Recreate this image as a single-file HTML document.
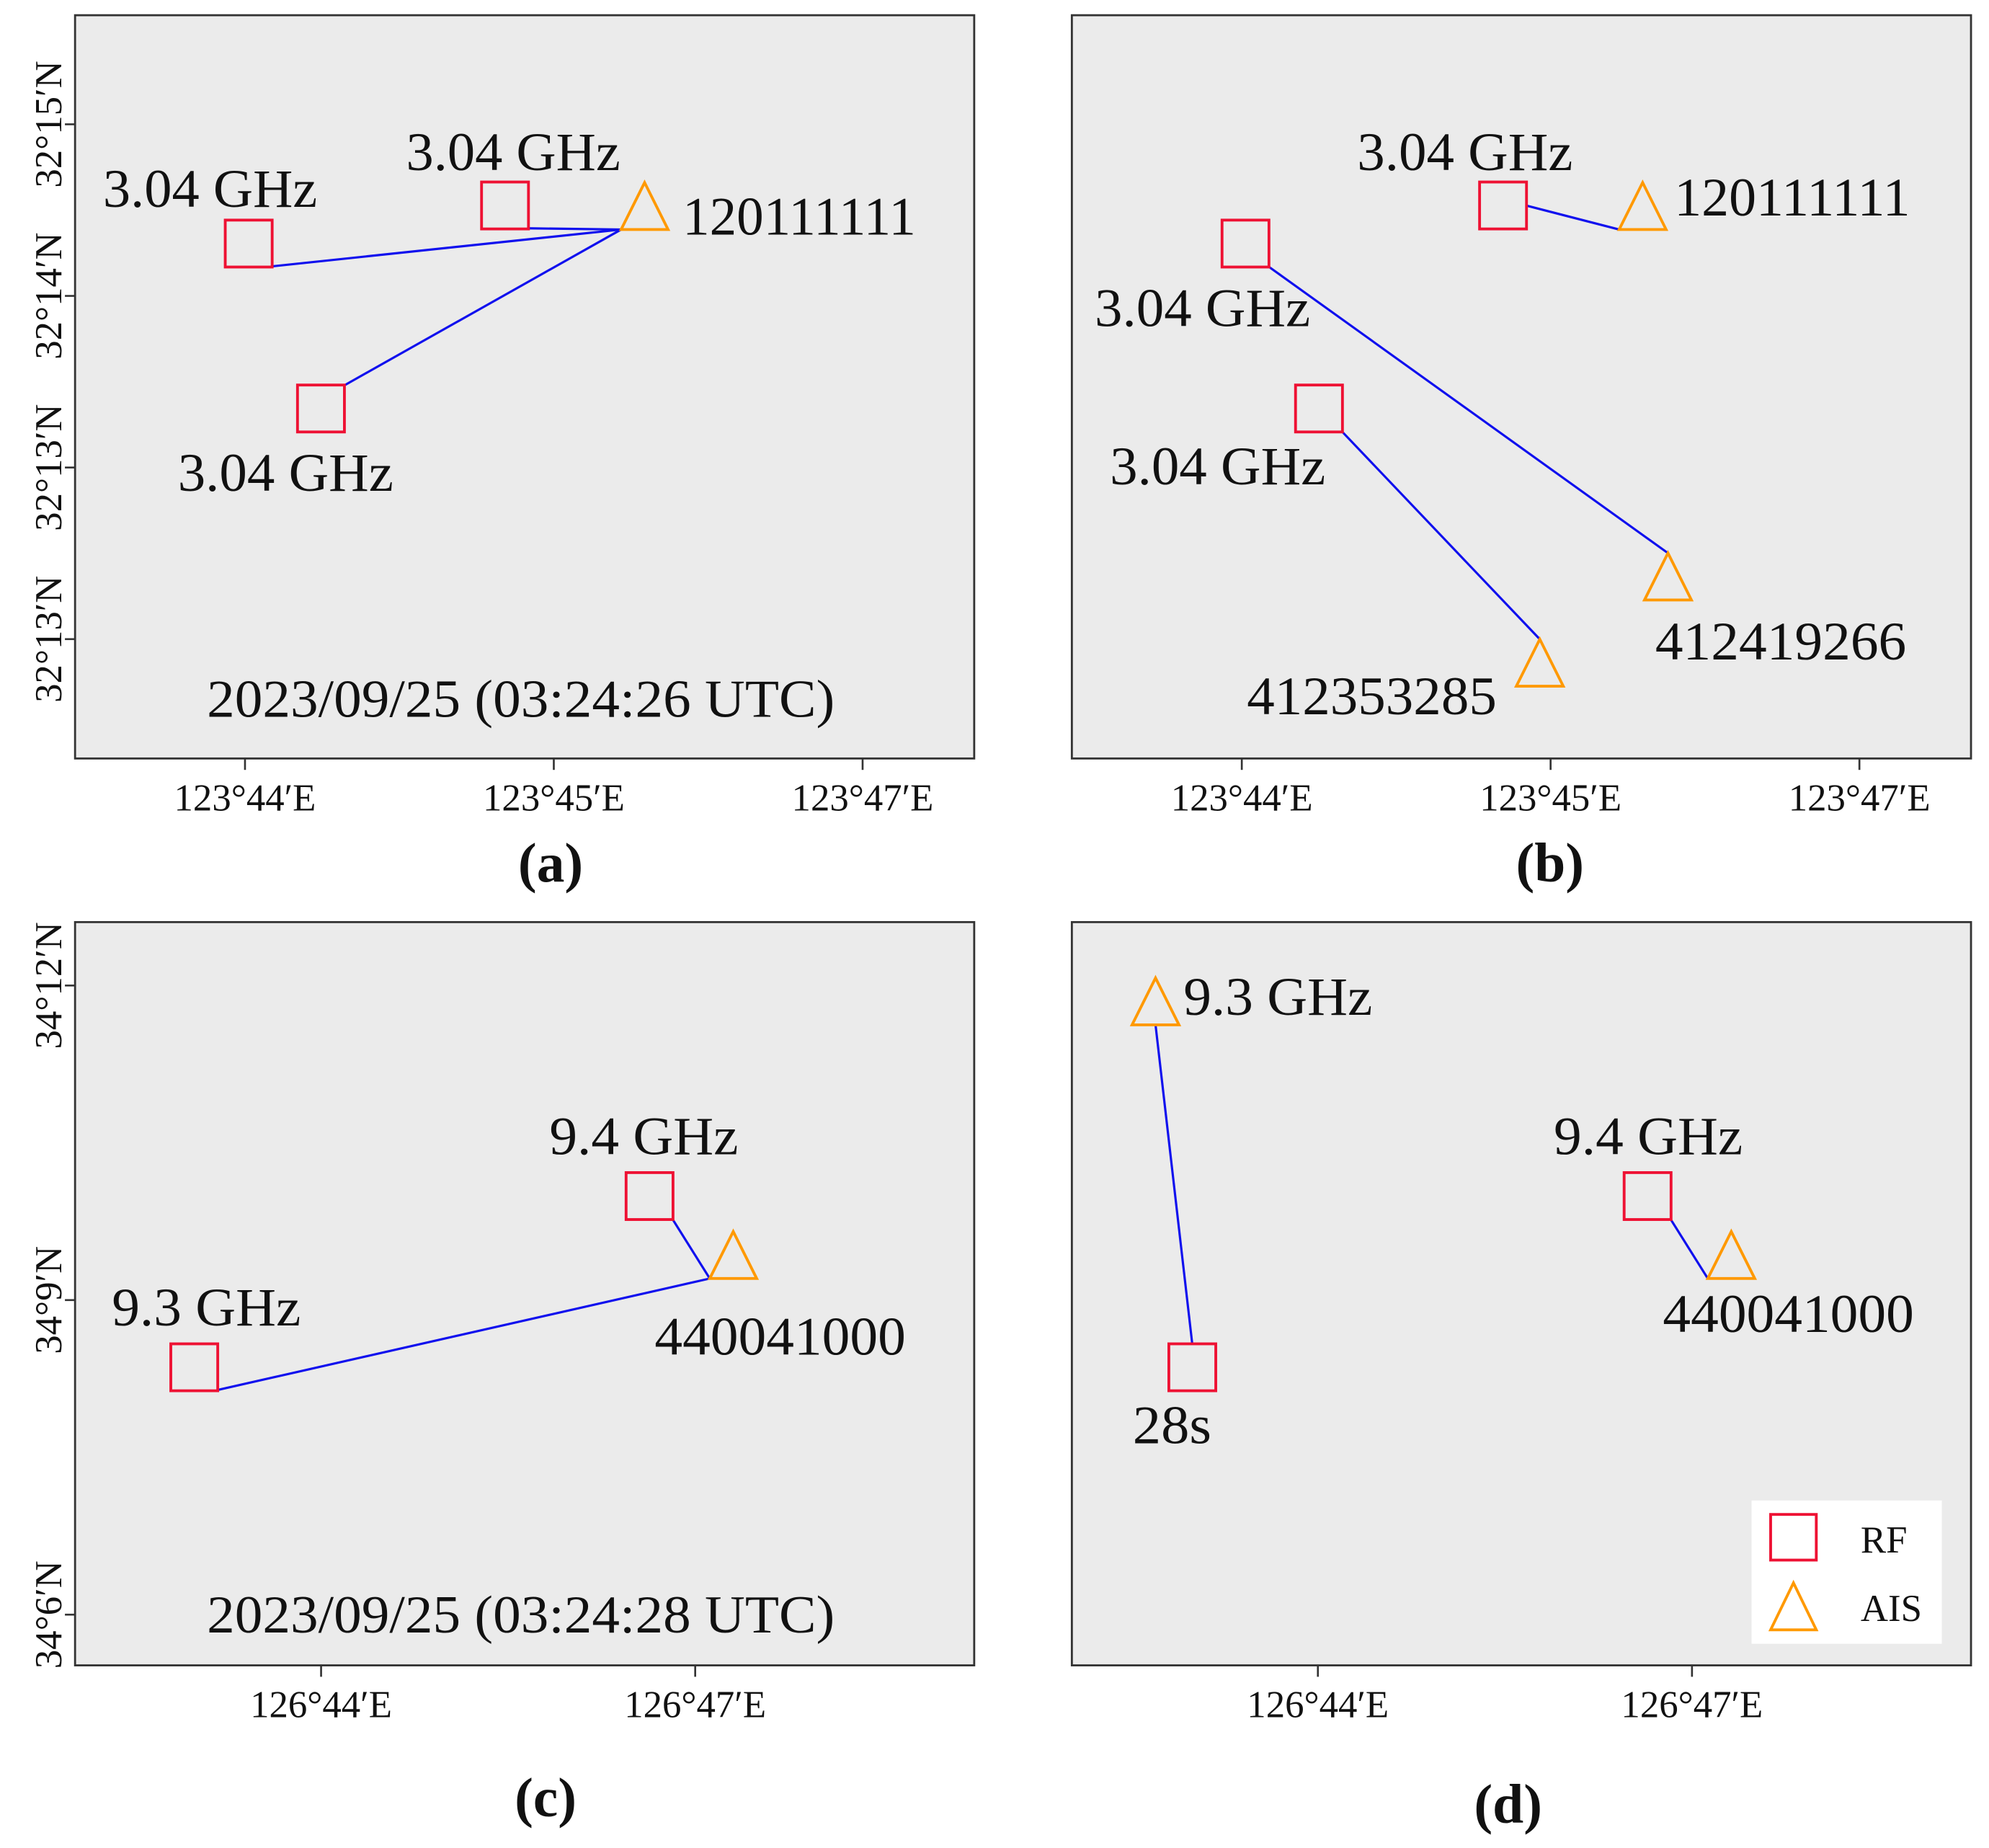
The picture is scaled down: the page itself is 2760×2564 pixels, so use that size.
<!DOCTYPE html>
<html><head><meta charset="utf-8">
<style>
html,body{margin:0;padding:0;background:#fff;}
svg{display:block;}
text{font-family:"Liberation Serif",serif;fill:#111;}
</style></head>
<body>
<svg id="fig" width="2760" height="2564" viewBox="0 0 1568 1457" xmlns="http://www.w3.org/2000/svg"></svg>
<script>
// ---- data (x in arc-minutes of longitude, y in arc-minutes of latitude) ----
const xTicksAB = [44, 45, 46];
const xTickLabelsAB = ["123°44′E", "123°45′E", "123°47′E"];
const yTicksAB = [15, 14, 13, 12];
const yTickLabelsAB = ["32°15′N", "32°14′N", "32°13′N", "32°13′N"];
const xTicksCD = [44, 47];
const xTickLabelsCD = ["126°44′E", "126°47′E"];
const yTicksCD = [12, 9, 6];
const yTickLabelsCD = ["34°12′N", "34°9′N", "34°6′N"];

const rfA = [[44.012, 14.305], [44.842, 14.527], [44.246, 13.344]];
const aisA = [[45.294, 14.483]];
const linksA = [[0, 0], [1, 0], [2, 0]];

const rfB = [[44.012, 14.305], [44.846, 14.527], [44.25, 13.344]];
const aisB = [[45.298, 14.483], [45.38, 12.324], [44.965, 11.822]];
const linksB = [[1, 0], [0, 1], [2, 2]];

const rfC = [[42.983, 8.359], [46.634, 9.992]];
const aisC = [[47.305, 9.363]];
const linksC = [[0, 0], [1, 0]];

const rfD = [[42.993, 8.359], [46.644, 9.992]];
const aisD = [[42.698, 11.782], [47.315, 9.363]];
const linksD = [[0, 0], [1, 1]];

const NS = "http://www.w3.org/2000/svg";
const svg = document.getElementById("fig");
function mk(tag, attrs, parent) {
  const e = document.createElementNS(NS, tag);
  for (const k in attrs) e.setAttribute(k, attrs[k]);
  (parent || svg).appendChild(e);
  return e;
}
function txt(s, x, y, size, parent, extra) {
  const t = mk("text", Object.assign({x: x, y: y, "font-size": size}, extra || {}), parent);
  t.textContent = s;
  return t;
}
// anchor offsets on triangle for line endpoints
const ANCH = {left: [-18.5, 13], apex: [0, -24], base: [0, 13], center: [0, 0]};
// square start corner offsets
const CORN = {br: [18, 18], tr: [18, -18], r: [18, 0], tl: [-18, -18], t: [0, -18], center: [0, 0]};

function panel(cfg) {
  const g = mk("g", {});
  
  
  const x = v => cfg.x0 + cfg.xPx0 + (v - cfg.xRef) * cfg.xk;
  const y = v => cfg.yPx0 + (cfg.yRef - v) * cfg.yk;
  const bg = mk("rect", {x: cfg.x0, y: cfg.top, width: 709, height: 586, fill: "#ebebeb", stroke: "#333", "stroke-width": 1.6}, g);
  
  
  cfg.xt.forEach((v, i) => {
    const tx = x(v);
    const tk = mk("line", {x1: tx, x2: tx, y1: cfg.top + 586, y2: cfg.top + 595, stroke: "#333", "stroke-width": 1.5}, g);
    
    
    const tl = txt(cfg.xl[i], tx, cfg.top + 627, 30, g, {"text-anchor": "middle"});
    
    
  });
  if (cfg.yt) {
    cfg.yt.forEach((v, i) => {
      const ty = y(v);
      const tk = mk("line", {x1: cfg.x0 - 8, x2: cfg.x0, y1: ty, y2: ty, stroke: "#333", "stroke-width": 1.5}, g);
      
      
      const tl = txt(cfg.yl[i], 0, 0, 30, g, {"text-anchor": "middle", transform: "translate(48," + ty + ") rotate(-90)"});
      
      
    });
  }
  cfg.links.forEach((l, i) => {
    const r = cfg.rf[l[0]], a = cfg.ais[l[1]];
    const c = CORN[cfg.corner[i]], an = ANCH[cfg.anchor[i]];
    const ln = mk("line", {x1: x(r[0]) + c[0], y1: y(r[1]) + c[1], x2: x(a[0]) + an[0], y2: y(a[1]) + an[1], stroke: "#1010ee", "stroke-width": 1.8}, g);
    
    
  });
  cfg.rf.forEach(p => {
    const s = mk("rect", {x: x(p[0]) - 18.5, y: y(p[1]) - 18.5, width: 37, height: 37, fill: "none", stroke: "#ee1133", "stroke-width": 2.2}, g);
    
    
  });
  cfg.ais.forEach(p => {
    const cx = x(p[0]), cy = y(p[1]);
    const t = mk("polygon", {points: cx + "," + (cy - 24) + " " + (cx - 18.5) + "," + (cy + 13) + " " + (cx + 18.5) + "," + (cy + 13), fill: "none", stroke: "#ff9900", "stroke-width": 2.2}, g);
    
    
  });
  cfg.labels.forEach(l => {
    const t = txt(l[0], l[1], l[2], l[3] || 43, g, l[4] ? {textLength: l[4], lengthAdjust: "spacingAndGlyphs"} : {});
    
    
  });
  const pl = txt(cfg.tag, cfg.tagX, cfg.tagY, 44, g, {"text-anchor": "middle", "font-weight": "bold"});
  
  
  return g;
}

const abScale = {xRef: 44, xPx0: 134, xk: 243.5, yRef: 15, yPx0: 98, yk: 135.3};
const cdScale = {xRef: 44, xPx0: 194, xk: 98.33, yRef: 12, yPx0: 777, yk: 82.67};

panel(Object.assign({name: "panel-a", x0: 59, top: 12, xt: xTicksAB, xl: xTickLabelsAB, yt: yTicksAB, yl: yTickLabelsAB,
  rf: rfA, ais: aisA, links: linksA, corner: ["br", "br", "tr"], anchor: ["left", "left", "left"],
  tag: "(a)", tagX: 434, tagY: 695,
  labels: [["3.04 GHz", 81, 163, 43, 169], ["3.04 GHz", 320, 134, 43, 169], ["3.04 GHz", 140, 387, 43, 170], ["120111111", 538, 185, 43, 184],
           ["2023/09/25 (03:24:26 UTC)", 163, 565, 42, 495]]}, abScale));

panel(Object.assign({name: "panel-b", x0: 845, top: 12, xt: xTicksAB, xl: xTickLabelsAB,
  rf: rfB, ais: aisB, links: linksB, corner: ["r", "br", "br"], anchor: ["left", "apex", "apex"],
  tag: "(b)", tagX: 1222, tagY: 695,
  labels: [["3.04 GHz", 1070, 134, 43, 170], ["120111111", 1320, 170, 43, 186], ["3.04 GHz", 863, 257, 43, 170], ["3.04 GHz", 875, 382, 43, 170],
           ["412419266", 1305, 520, 43, 198], ["412353285", 983, 563, 43, 197]]}, abScale));

panel(Object.assign({name: "panel-c", x0: 59, top: 727, xt: xTicksCD, xl: xTickLabelsCD, yt: yTicksCD, yl: yTickLabelsCD,
  rf: rfC, ais: aisC, links: linksC, corner: ["br", "br"], anchor: ["left", "left"],
  tag: "(c)", tagX: 430, tagY: 1432,
  labels: [["9.3 GHz", 88, 1045, 43, 149], ["9.4 GHz", 433, 910, 43, 149], ["440041000", 516, 1068, 43, 198],
           ["2023/09/25 (03:24:28 UTC)", 163, 1287, 42, 495]]}, cdScale));

panel(Object.assign({name: "panel-d", x0: 845, top: 727, xt: xTicksCD, xl: xTickLabelsCD,
  rf: rfD, ais: aisD, links: linksD, corner: ["t", "br"], anchor: ["base", "left"],
  tag: "(d)", tagX: 1189, tagY: 1437,
  labels: [["9.3 GHz", 933, 800, 43, 149], ["28s", 893, 1138, 43, 62], ["9.4 GHz", 1225, 910, 43, 149], ["440041000", 1311, 1050, 43, 198]]}, cdScale));

// legend
const lg = mk("g", {});


mk("rect", {x: 1381, y: 1183, width: 150, height: 113, fill: "#fff"}, lg);
const lr = mk("rect", {x: 1396, y: 1194, width: 36, height: 36, fill: "#fff", stroke: "#ee1133", "stroke-width": 2.2}, lg);


txt("RF", 1467, 1224, 30, lg);
const lt = mk("polygon", {points: "1414,1248 1396,1285 1432,1285", fill: "#fff", stroke: "#ff9900", "stroke-width": 2.2}, lg);


txt("AIS", 1467, 1278, 30, lg);
</script>
</body></html>
